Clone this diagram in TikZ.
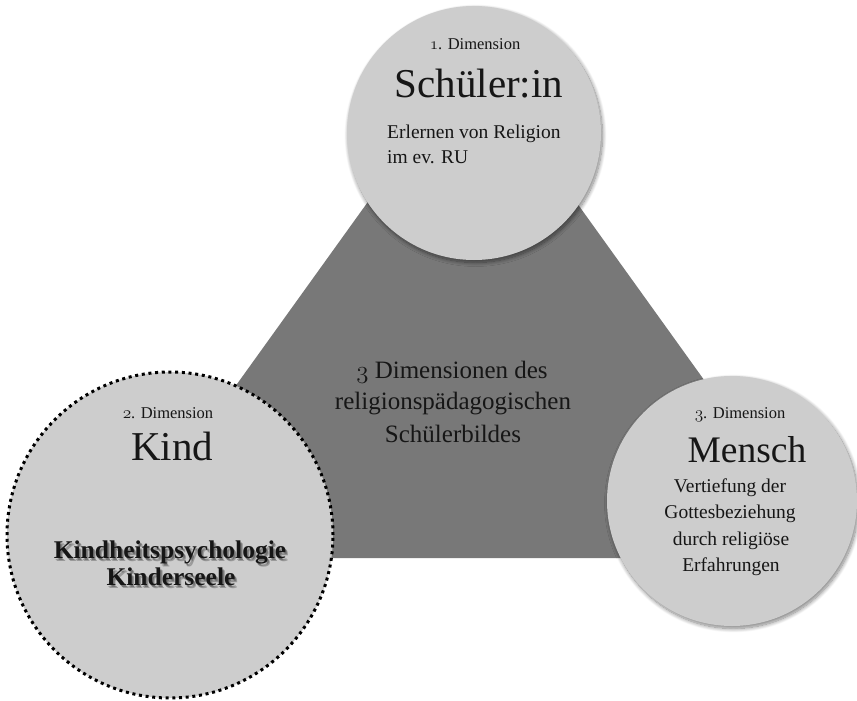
\documentclass[tikz,border=0pt]{standalone}
\usepackage{fontspec}
\setmainfont{Liberation Serif}
\usetikzlibrary{shadows.blur}
\newcommand\osn[1]{{\fontencoding{OML}\fontfamily{cmm}\fontseries{m}\fontshape{it}\selectfont #1}}
\definecolor{discgray}{RGB}{205,205,205}
\definecolor{trigray}{RGB}{120,120,120}
\definecolor{ink}{RGB}{22,22,22}
\begin{document}
\begin{tikzpicture}[x=1pt,y=-1pt,
  disc/.style={circle, fill=discgray, minimum size=#1, inner sep=0pt},
  softshadow/.style={blur shadow={shadow blur steps=12, shadow xshift=1.5pt, shadow yshift=-2.5pt, shadow blur radius=4pt, shadow opacity=50}},
  dimfont/.style={font=\fontsize{16.5}{19}\selectfont, text=ink, anchor=base, inner sep=0pt},
  headfont/.style={font=\fontsize{41}{44}\selectfont, text=ink, anchor=base, inner sep=0pt},
  bodyfont/.style={font=\fontsize{19.5}{23}\selectfont, text=ink, inner sep=0pt},
  centerfont/.style={font=\fontsize{25}{29}\selectfont, text=ink, anchor=base, inner sep=0pt},
  kindfont/.style={font=\bfseries\fontsize{25.5}{29}\selectfont, anchor=base, inner sep=0pt}
]
\useasboundingbox (0,0) rectangle (857,701);

% triangle
\fill[trigray] (472,57) -- (112,558) -- (832,558) -- cycle;

% circles
\node[disc=254pt, softshadow] (schueler) at (474,133) {};
\node[disc=250pt, softshadow] (mensch) at (732,501) {};
\node[disc=326pt, draw=black, line width=3pt, dash pattern=on 3pt off 3.7pt] (kind) at (170,535) {};

% centre text
\node[centerfont] (c1) at (452,378) {\osn{3} Dimensionen des};
\node[centerfont] (c2) at (453,409) {religionsp\"adagogischen};
\node[centerfont] (c3) at (453,442) {Sch\"ulerbildes};

% Schueler:in
\node[dimfont] (d1) at (475,50) {\osn{1}. Dimension};
\node[headfont] (h1) at (479,97) {Sch\"uler:in};
\node[bodyfont, anchor=base west] (s1) at (387,138) {Erlernen von Religion};
\node[bodyfont, anchor=base west] (s2) at (387,163) {im ev. RU};

% Kind
\node[dimfont] (d2) at (168,418) {\osn{2}. Dimension};
\node[headfont] (h2) at (172,460) {Kind};
\foreach \i/\dx/\dy in {1/1.5/2.5, 2/2.5/3.5} {
  \node[kindfont, text=black, opacity=0.25] (ksa\i) at (170+\dx,558+\dy) {Kindheitspsychologie};
  \node[kindfont, text=black, opacity=0.25] (ksb\i) at (171+\dx,585+\dy) {Kinderseele};
}
\node[kindfont, text=ink] (k1) at (170,558) {Kindheitspsychologie};
\node[kindfont, text=ink] (k2) at (171,585) {Kinderseele};

% Mensch
\node[dimfont] (d3) at (740,418) {\osn{3}. Dimension};
\node[headfont, font=\fontsize{37.5}{41}\selectfont] (h3) at (747,462) {Mensch};
\node[bodyfont, anchor=base] (m1) at (730,492) {Vertiefung der};
\node[bodyfont, anchor=base] (m2) at (730,518) {Gottesbeziehung};
\node[bodyfont, anchor=base] (m3) at (731,545) {durch religi\"ose};
\node[bodyfont, anchor=base] (m4) at (731,571) {Erfahrungen};
\end{tikzpicture}
\end{document}
